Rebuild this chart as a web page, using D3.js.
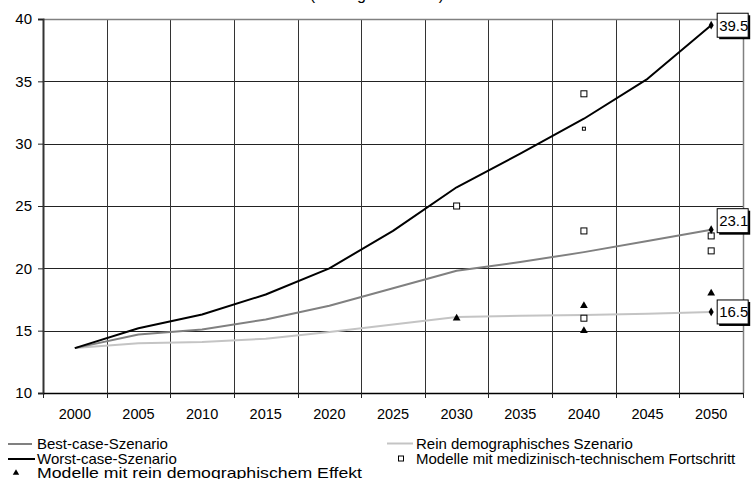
<!DOCTYPE html>
<html>
<head>
<meta charset="utf-8">
<script src="https://cdn.jsdelivr.net/npm/d3@7/dist/d3.min.js"></script>
<style>
  html, body { margin: 0; padding: 0; background: #fff; }
  svg { display: block; font-family: "Liberation Sans", Arial, sans-serif; }
</style>
</head>
<body>
<svg id="chart" width="751" height="479"></svg>
<script>
// ---- data ----
const years = ["2000","2005","2010","2015","2020","2025","2030","2035","2040","2045","2050"];
const bestCase  = [13.6, 14.7, 15.1, 15.9, 17.0, 18.4, 19.8, 20.5, 21.3, 22.2, 23.1];
const worstCase = [13.6, 15.2, 16.3, 17.9, 20.0, 23.0, 26.5, 29.2, 32.0, 35.2, 39.5];
const reinDemo  = [13.6, 14.0, 14.1, 14.35, 14.9, 15.5, 16.1, 16.2, 16.25, 16.35, 16.5];
const demoModelYears  = ["2030", "2040", "2040", "2050"];
const demoModelValues = [16.0, 17.0, 15.0, 18.0];
const medModelYears  = ["2030", "2040", "2040", "2040", "2040", "2050", "2050"];
const medModelValues = [25.0, 34.0, 31.2, 23.0, 16.0, 22.6, 21.4];
const medModelSmall  = [false, false, true, false, false, false, false];
const yTicks = [10, 15, 20, 25, 30, 35, 40];
const titleText = "(Beitragssatz in %)";
const seriesNames = ["Best-case-Szenario", "Worst-case-Szenario", "Rein demographisches Szenario"];
const markerNames = ["Modelle mit rein demographischem Effekt", "Modelle mit medizinisch-technischem Fortschritt"];

// ---- layout ----
const svg = d3.select("#chart");
const L = 43, R = 743, T = 19, B = 393;

const x = d3.scaleBand().domain(years).range([L, R]).paddingInner(0).paddingOuter(0);
const xc = d => x(d) + x.bandwidth() / 2;
const y = d3.scaleLinear().domain([10, 40]).range([B, T]);

// title (cut at top)
svg.append("text").attr("x", 377).attr("y", 0).attr("text-anchor", "middle")
  .attr("font-size", 16).attr("fill", "#000").text(titleText);

// gridlines
const g = svg.append("g");
g.selectAll("line.h").data(yTicks.filter(t => t > 10 && t < 40)).enter().append("line")
  .attr("x1", L).attr("x2", R)
  .attr("y1", d => Math.round(y(d)) + 0.5).attr("y2", d => Math.round(y(d)) + 0.5)
  .attr("stroke", "#222").attr("stroke-width", 1);
const boundaries = years.slice(1).map(d => x(d));
g.selectAll("line.v").data(boundaries).enter().append("line")
  .attr("x1", d => Math.round(d) + 0.5).attr("x2", d => Math.round(d) + 0.5)
  .attr("y1", T).attr("y2", B)
  .attr("stroke", "#333").attr("stroke-width", 1);

// plot border (top, right)
g.append("line").attr("x1", L).attr("x2", R).attr("y1", Math.round(T) + 0.5).attr("y2", Math.round(T) + 0.5)
  .attr("stroke", "#808080").attr("stroke-width", 1.5);
g.append("line").attr("x1", R + 0.5).attr("x2", R + 0.5).attr("y1", T).attr("y2", B)
  .attr("stroke", "#808080").attr("stroke-width", 1.5);

// y axis
const yAxis = d3.axisLeft(y).tickValues(yTicks).tickSize(5).tickPadding(6).tickFormat(d3.format("d"));
const ya = svg.append("g").attr("transform", `translate(${L},0)`).call(yAxis);
ya.select(".domain").attr("stroke", "#333").attr("stroke-width", 2);
ya.selectAll(".tick line").attr("stroke", "#222");
ya.selectAll(".tick text").attr("font-size", 15).attr("fill", "#000")
  .attr("font-family", "Liberation Sans, Arial, sans-serif");

// x axis
const xAxis = d3.axisBottom(x).tickSize(0).tickPadding(16);
const xa = svg.append("g").attr("transform", `translate(0,${B})`).call(xAxis);
xa.select(".domain").attr("stroke", "#000").attr("stroke-width", 1.5);
xa.selectAll(".tick text").attr("font-size", 14.5).attr("fill", "#000")
  .attr("font-family", "Liberation Sans, Arial, sans-serif");
// tick marks at category boundaries
svg.append("g").selectAll("line").data(years.map(d => x(d)).concat([R])).enter().append("line")
  .attr("x1", d => Math.round(d) + 0.5).attr("x2", d => Math.round(d) + 0.5)
  .attr("y1", B).attr("y2", B + 5).attr("stroke", "#222");

// series lines
const lineGen = d3.line().x((d, i) => xc(years[i])).y(d => y(d));
const series = [
  { vals: reinDemo,  color: "#c4c4c4" },
  { vals: bestCase,  color: "#808080" },
  { vals: worstCase, color: "#000000" }
];
series.forEach(s => {
  svg.append("path").datum(s.vals).attr("d", lineGen)
    .attr("fill", "none").attr("stroke", s.color).attr("stroke-width", 2)
    .attr("stroke-linejoin", "round");
});

// triangles
const tri = d3.symbol().type(d3.symbolTriangle).size(26);
svg.append("g").selectAll("path").data(demoModelValues).enter().append("path")
  .attr("d", tri)
  .attr("transform", (d, i) => `translate(${xc(demoModelYears[i])},${y(d)})`)
  .attr("fill", "#000");

// squares
svg.append("g").selectAll("rect").data(medModelValues).enter().append("rect")
  .each(function(d, i) {
    const s = medModelSmall[i] ? 3 : 6;
    d3.select(this).attr("x", xc(medModelYears[i]) - s / 2).attr("y", y(d) - s / 2)
      .attr("width", s).attr("height", s);
  })
  .attr("fill", "#fff").attr("stroke", "#000").attr("stroke-width", 1);

// end diamonds + labels
const ends = [worstCase, bestCase, reinDemo].map(v => v[v.length - 1]);
const labelDy = [0, -9, 0];
const dia = d3.symbol().type(d3.symbolDiamond).size(22);
ends.forEach((v, i) => {
  const px = xc(years[years.length - 1]);
  const py = y(v);
  svg.append("path").attr("d", dia).attr("transform", `translate(${px},${py})`).attr("fill", "#000");
  const bx = px + 6, by = py + labelDy[i] - 12, bw = 31, bh = 24;
  svg.append("rect").attr("x", bx + 2).attr("y", by + 2).attr("width", bw).attr("height", bh).attr("fill", "#000");
  svg.append("rect").attr("x", bx).attr("y", by).attr("width", bw).attr("height", bh)
    .attr("fill", "#fff").attr("stroke", "#000").attr("stroke-width", 1);
  svg.append("text").attr("x", bx + 2).attr("y", by + bh / 2 + 5.5)
    .attr("font-size", 15).attr("fill", "#000").text(d3.format(".1f")(v));
});

// legend
const lg = svg.append("g");
const legendItems = [
  { kind: "line", color: "#808080", x1: 8, x2: 32, y: 444, tx: 37, label: seriesNames[0] },
  { kind: "line", color: "#000000", x1: 8, x2: 35, y: 459, tx: 37, label: seriesNames[1] },
  { kind: "tri", x: 16, y: 473, tx: 37, label: markerNames[0], len: 325 },
  { kind: "line", color: "#c4c4c4", x1: 387, x2: 413, y: 443.5, tx: 416, label: seriesNames[2] },
  { kind: "sq", x: 401, y: 458.5, tx: 416, label: markerNames[1] }
];
legendItems.forEach(it => {
  if (it.kind === "line") {
    lg.append("line").attr("x1", it.x1).attr("x2", it.x2).attr("y1", it.y).attr("y2", it.y)
      .attr("stroke", it.color).attr("stroke-width", 2);
  } else if (it.kind === "tri") {
    lg.append("path").attr("d", d3.symbol().type(d3.symbolTriangle).size(18))
      .attr("transform", `translate(${it.x},${it.y})`).attr("fill", "#000");
  } else {
    lg.append("rect").attr("x", it.x - 2.5).attr("y", it.y - 2.5).attr("width", 5).attr("height", 5)
      .attr("fill", "#fff").attr("stroke", "#000");
  }
  const t = lg.append("text").attr("x", it.tx).attr("y", it.y + 5).attr("font-size", 15).attr("fill", "#000").text(it.label);
  if (it.len) t.attr("textLength", it.len).attr("lengthAdjust", "spacingAndGlyphs");
});
</script>
</body>
</html>
